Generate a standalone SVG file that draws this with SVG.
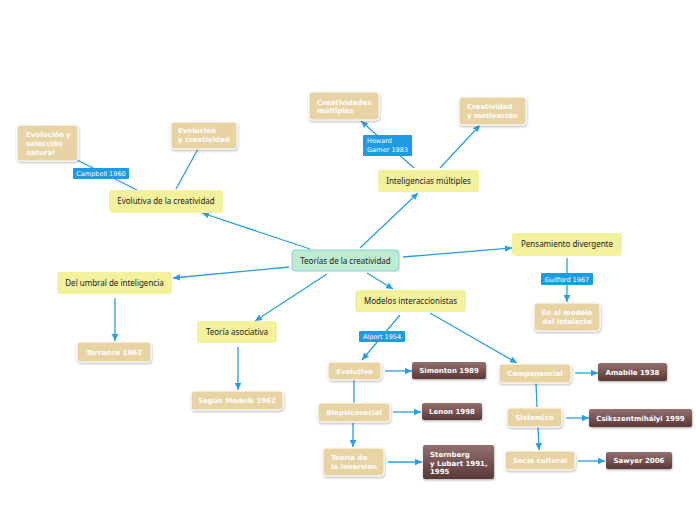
<svg xmlns="http://www.w3.org/2000/svg" width="696" height="520" viewBox="0 0 696 520">
<defs>
<marker id="ar" markerUnits="userSpaceOnUse" markerWidth="8" markerHeight="8" refX="7" refY="4" orient="auto">
<path d="M0,0.7 L7,4 L0,7.3 Z" fill="#2a9fe0"/>
</marker>
<linearGradient id="brown" x1="0" y1="0" x2="0" y2="1">
<stop offset="0" stop-color="#937070"/>
<stop offset="1" stop-color="#5a3838"/>
</linearGradient>
<filter id="sh" x="-20%" y="-20%" width="140%" height="160%">
<feDropShadow dx="0.5" dy="1.2" stdDeviation="0.8" flood-color="#000" flood-opacity="0.3"/>
</filter>
<style>
.e{stroke:#2a9fe0;stroke-width:1.3;fill:none}
.y{fill:#f4f19c}
.c{fill:#bfecd1;stroke:#86cfe0;stroke-width:1}
.t{fill:#e8d3a5;stroke:#fff;stroke-width:1;filter:url(#sh)}
.b{fill:url(#brown);filter:url(#sh)}
.l{fill:#1e9be2}
.ty{font-family:"Noto Sans",sans-serif;font-size:8px;fill:#222;text-anchor:middle}
.tw{font-family:"DejaVu Sans",Verdana,sans-serif;font-size:7px;font-weight:bold;fill:#fff}
.tm{text-anchor:middle}
.tl{font-family:"DejaVu Sans",Verdana,sans-serif;font-size:6.5px;fill:#fff}
</style>
</defs>
<rect width="696" height="520" fill="#fff"/>
<g id="connectors">
<line class="e" x1="310" y1="249" x2="202" y2="213" marker-end="url(#ar)"/>
<line class="e" x1="360" y1="248" x2="418" y2="193" marker-end="url(#ar)"/>
<line class="e" x1="403" y1="257" x2="512" y2="248" marker-end="url(#ar)"/>
<line class="e" x1="289" y1="267" x2="173" y2="278" marker-end="url(#ar)"/>
<line class="e" x1="327" y1="274" x2="255" y2="321" marker-end="url(#ar)"/>
<line class="e" x1="367" y1="273" x2="393" y2="289" marker-end="url(#ar)"/>
<line class="e" x1="137" y1="190" x2="77" y2="160"/>
<line class="e" x1="176" y1="189" x2="198" y2="149"/>
<line class="e" x1="414" y1="168" x2="361" y2="121" marker-end="url(#ar)"/>
<line class="e" x1="440" y1="168" x2="480" y2="125" marker-end="url(#ar)"/>
<line class="e" x1="567" y1="258" x2="567" y2="302" marker-end="url(#ar)"/>
<line class="e" x1="115" y1="298" x2="115" y2="341" marker-end="url(#ar)"/>
<line class="e" x1="238" y1="347" x2="238" y2="390" marker-end="url(#ar)"/>
<line class="e" x1="400" y1="315" x2="362" y2="360" marker-end="url(#ar)"/>
<line class="e" x1="430" y1="313" x2="517" y2="363" marker-end="url(#ar)"/>
<line class="e" x1="385" y1="371" x2="412" y2="371" marker-end="url(#ar)"/>
<line class="e" x1="354" y1="380" x2="354" y2="403"/>
<line class="e" x1="393" y1="412" x2="421" y2="412" marker-end="url(#ar)"/>
<line class="e" x1="353" y1="423" x2="353" y2="447" marker-end="url(#ar)"/>
<line class="e" x1="388" y1="462" x2="422" y2="462" marker-end="url(#ar)"/>
<line class="e" x1="575" y1="373" x2="598" y2="373" marker-end="url(#ar)"/>
<line class="e" x1="536" y1="383" x2="537" y2="407"/>
<line class="e" x1="566" y1="418" x2="589" y2="418" marker-end="url(#ar)"/>
<line class="e" x1="538" y1="427" x2="539" y2="450" marker-end="url(#ar)"/>
<line class="e" x1="578" y1="461" x2="605" y2="461" marker-end="url(#ar)"/>
</g>
<g id="n-central"><rect class="c" x="292" y="250" width="107" height="21" rx="3"/><text class="ty" x="345.5" y="263.5">Teorías de la creatividad</text></g>
<g id="n-evolutiva"><rect class="y" x="109" y="190" width="114" height="23" rx="3"/><text class="ty" x="166" y="204">Evolutiva de la creatividad</text></g>
<g id="n-evsel"><rect class="t" x="17" y="125" width="61" height="36" rx="3"/><text class="tw" x="26" y="136.5">Evolución y</text><text class="tw" x="26" y="145.5">selección</text><text class="tw" x="26" y="154.5">natural</text></g>
<g id="n-evcre"><rect class="t" x="171" y="122" width="66" height="27" rx="3"/><text class="tw" x="178" y="132.5">Evolución</text><text class="tw" x="178" y="141.5">y creatividad</text></g>
<g id="l-campbell"><rect class="l" x="73" y="168" width="56" height="11" rx="1"/><text class="tl tm" x="101" y="176">Campbell 1960</text></g>
<g id="n-intel"><rect class="y" x="378" y="170" width="101" height="22" rx="3"/><text class="ty" x="428.5" y="184">Inteligencias múltiples</text></g>
<g id="n-cremul"><rect class="t" x="309" y="92" width="70" height="28" rx="3"/><text class="tw" x="317" y="104.5">Creatividades</text><text class="tw" x="317" y="113">múltiples</text></g>
<g id="n-cremot"><rect class="t" x="459" y="97" width="67" height="28" rx="3"/><text class="tw" x="467" y="108.5">Creatividad</text><text class="tw" x="467" y="117.5">y motivación</text></g>
<g id="l-howard"><rect class="l" x="363" y="135" width="49" height="21" rx="1"/><text class="tl" x="367" y="142.5">Howard</text><text class="tl" x="367" y="151.5">Garner 1983</text></g>
<g id="n-pens"><rect class="y" x="512" y="233" width="110" height="23" rx="3"/><text class="ty" x="567" y="247">Pensamiento divergente</text></g>
<g id="l-guilford"><rect class="l" x="541" y="273" width="52" height="12" rx="1"/><text class="tl tm" x="567" y="281.5">Guilford 1967</text></g>
<g id="n-modelo"><rect class="t" x="534" y="303" width="66" height="28" rx="3"/><text class="tw tm" x="567" y="315">En el modelo</text><text class="tw tm" x="567" y="323.5">del intelecto</text></g>
<g id="n-umbral"><rect class="y" x="57" y="272" width="115" height="22" rx="3"/><text class="ty" x="114.5" y="285.5">Del umbral de inteligencia</text></g>
<g id="n-torrance"><rect class="t" x="77" y="342" width="74" height="20" rx="3"/><text class="tw tm" x="114" y="354.5">Torrance 1962</text></g>
<g id="n-asoc"><rect class="y" x="197" y="321" width="80" height="22" rx="3"/><text class="ty" x="237" y="334.5">Teoría asociativa</text></g>
<g id="n-mednik"><rect class="t" x="191" y="391" width="92" height="19" rx="3"/><text class="tw tm" x="237" y="403">Según Mednik 1962</text></g>
<g id="n-modelos"><rect class="y" x="355" y="290" width="111" height="22" rx="3"/><text class="ty" x="410.5" y="303.5">Modelos interaccionistas</text></g>
<g id="l-alport"><rect class="l" x="359" y="331" width="46" height="11" rx="1"/><text class="tl tm" x="382" y="339">Alport 1954</text></g>
<g id="n-evolutivo"><rect class="t" x="328" y="362" width="53" height="18" rx="3"/><text class="tw tm" x="354.5" y="373.5">Evolutivo</text></g>
<g id="n-simonton"><rect class="b" x="412" y="362" width="74" height="17" rx="2"/><text class="tw tm" x="449" y="373">Simonton 1989</text></g>
<g id="n-biopsico"><rect class="t" x="318" y="403" width="72" height="19" rx="3"/><text class="tw tm" x="354" y="415">Biopsicosocial</text></g>
<g id="n-lenon"><rect class="b" x="422" y="403" width="60" height="17" rx="2"/><text class="tw tm" x="452" y="414">Lenon 1998</text></g>
<g id="n-inversion"><rect class="t" x="323" y="448" width="61" height="28" rx="3"/><text class="tw" x="331" y="459.5">Teoría de</text><text class="tw" x="331" y="468.5">la inversión</text></g>
<g id="n-sternberg"><rect class="b" x="423" y="445" width="71" height="34" rx="2"/><text class="tw" x="430" y="456.5">Sternberg</text><text class="tw" x="430" y="465.5">y Lubart 1991,</text><text class="tw" x="430" y="474">1995</text></g>
<g id="n-componencial"><rect class="t" x="499" y="364" width="72" height="19" rx="3"/><text class="tw tm" x="535" y="376">Componencial</text></g>
<g id="n-amabile"><rect class="b" x="598" y="363" width="69" height="18" rx="2"/><text class="tw tm" x="632.5" y="374.5">Amabile 1938</text></g>
<g id="n-sistemico"><rect class="t" x="507" y="408" width="55" height="19" rx="3"/><text class="tw tm" x="534.5" y="420">Sistemico</text></g>
<g id="n-csik"><rect class="b" x="589" y="409" width="103" height="18" rx="2"/><text class="tw tm" x="640.5" y="420.5">Csikszentmihályi 1999</text></g>
<g id="n-socio"><rect class="t" x="505" y="451" width="70" height="19" rx="3"/><text class="tw tm" x="540" y="463">Socio cultural</text></g>
<g id="n-sawyer"><rect class="b" x="606" y="452" width="66" height="17" rx="2"/><text class="tw tm" x="639" y="463">Sawyer 2006</text></g>
</svg>
